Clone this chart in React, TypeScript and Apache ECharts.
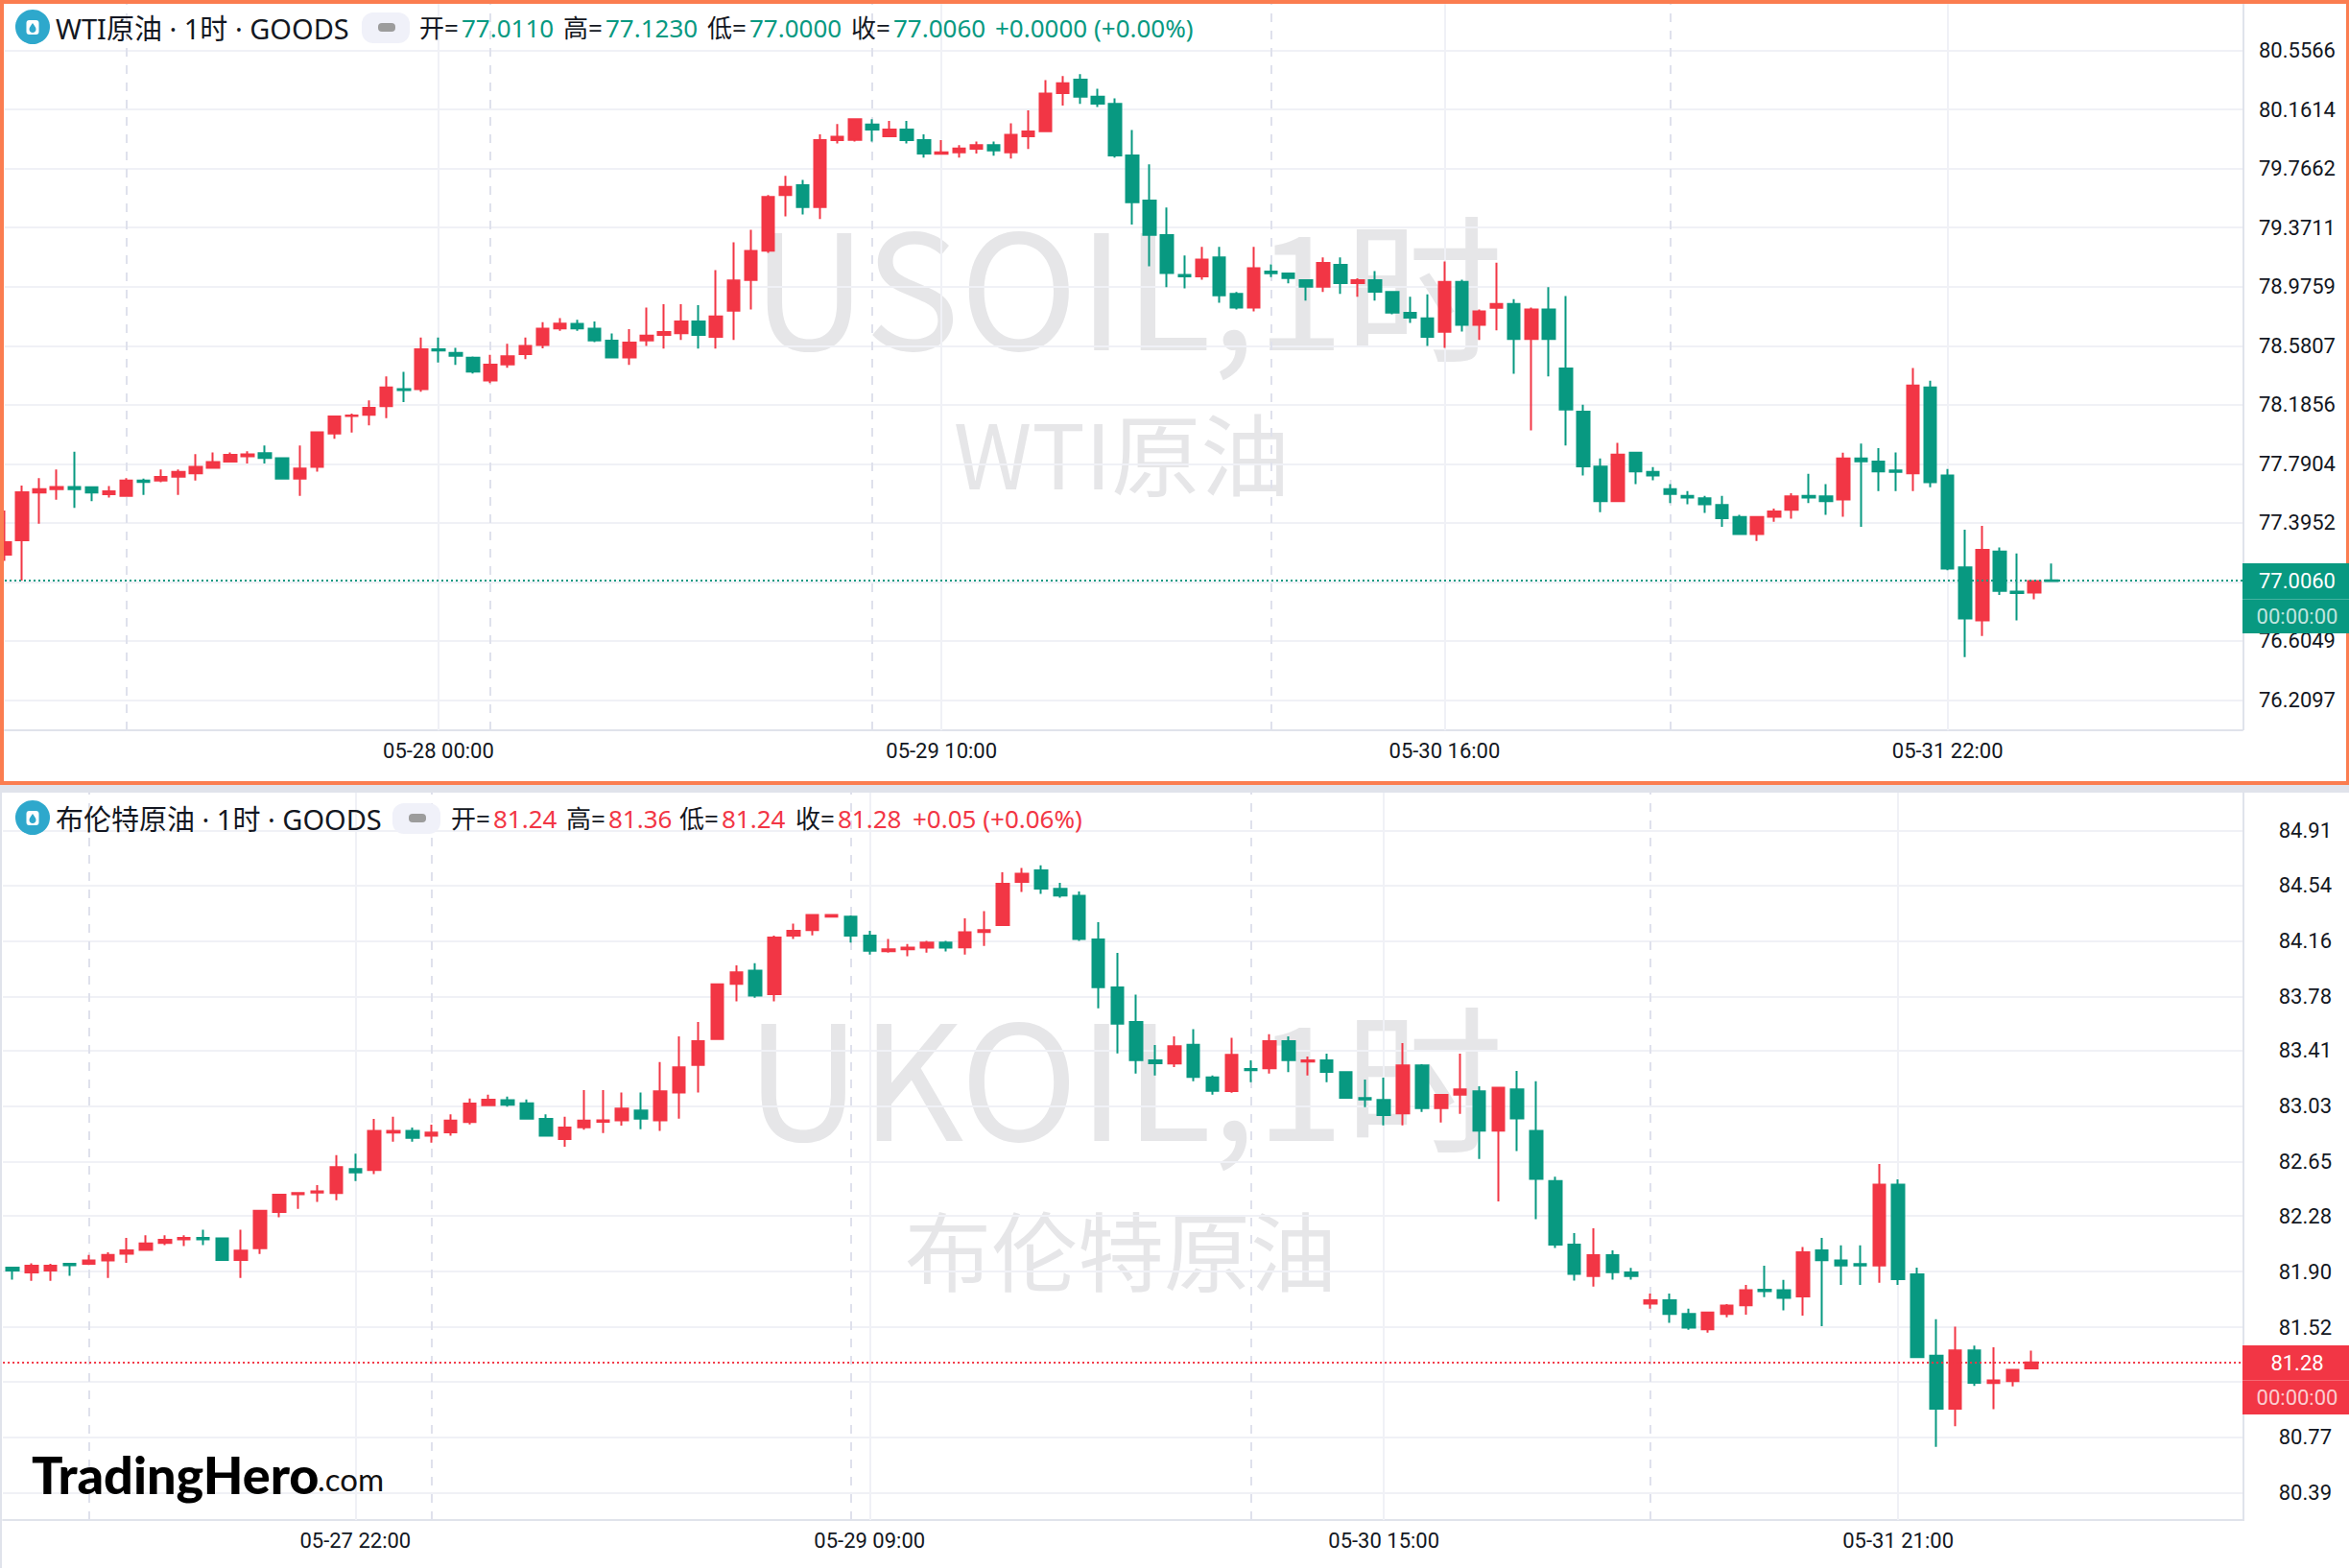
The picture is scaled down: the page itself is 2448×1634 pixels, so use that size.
import React, { useEffect, useRef } from "react";
import * as echarts from "echarts";

const UP = "#f23645";
const DOWN = "#089981";

const wtiOpen = [
  77.182,77.278,77.598,77.621,77.635,77.633,77.587,77.575,77.679,77.679,
  77.704,77.727,77.763,77.805,77.841,77.862,77.828,77.692,77.770,77.993,
  78.110,78.119,78.176,78.291,78.291,78.557,78.532,78.500,78.348,78.456,
  78.525,78.585,78.697,78.727,78.695,78.614,78.502,78.617,78.653,78.665,
  78.743,78.640,78.816,79.021,79.216,79.589,79.655,79.509,79.957,79.959,
  80.062,79.982,80.027,79.957,79.865,79.875,79.899,79.923,79.875,79.982,
  80.017,80.271,80.361,80.248,80.199,79.854,79.552,79.321,79.055,79.045,
  79.171,78.927,78.837,79.077,79.064,79.019,78.976,79.122,79.000,79.019,
  78.940,78.801,78.764,78.674,79.008,78.721,78.835,78.860,78.626,78.823,
  78.429,78.139,77.771,77.540,77.864,77.736,77.621,77.576,77.559,77.515,
  77.434,77.321,77.436,77.483,77.576,77.572,77.552,77.827,77.805,77.746,
  77.727,78.302,77.712,77.097,76.743,77.203,76.935,76.928,77.011,
];
const wtiClose = [
  77.266,77.600,77.621,77.635,77.621,77.598,77.607,77.679,77.669,77.702,
  77.736,77.770,77.802,77.851,77.853,77.830,77.692,77.759,78.002,78.108,
  78.114,78.165,78.302,78.284,78.557,78.548,78.514,78.408,78.454,78.511,
  78.580,78.695,78.729,78.697,78.617,78.502,78.601,78.649,78.672,78.743,
  78.653,78.777,79.018,79.215,79.576,79.644,79.509,79.957,79.980,80.096,
  80.027,80.027,79.957,79.867,79.875,79.901,79.923,79.888,79.993,80.015,
  80.269,80.338,80.248,80.201,79.854,79.541,79.323,79.068,79.045,79.158,
  78.918,78.837,79.100,79.066,79.034,78.976,79.135,79.000,79.019,78.942,
  78.803,78.768,78.640,79.008,78.721,78.811,78.860,78.626,78.823,78.626,
  78.154,77.773,77.540,77.852,77.739,77.712,77.589,77.564,77.520,77.427,
  77.321,77.434,77.471,77.572,77.564,77.540,77.827,77.807,77.739,77.736,
  78.314,77.667,77.090,76.756,77.215,76.940,76.925,77.006,77.006,
];
const wtiHigh = [
  77.478,77.645,77.695,77.752,77.871,77.635,77.642,77.695,77.692,77.752,
  77.752,77.855,77.867,77.867,77.874,77.913,77.828,77.913,78.002,78.108,
  78.126,78.215,78.376,78.406,78.635,78.635,78.566,78.509,78.520,78.594,
  78.635,78.738,78.766,78.754,78.743,78.663,78.692,78.837,78.858,78.858,
  78.853,79.087,79.273,79.357,79.589,79.717,79.691,79.995,80.064,80.096,
  80.096,80.085,80.085,79.995,79.957,79.923,79.948,79.948,80.070,80.156,
  80.359,80.385,80.398,80.301,80.237,80.025,79.794,79.505,79.184,79.242,
  79.242,78.940,79.242,79.126,79.066,79.021,79.171,79.171,79.032,79.081,
  78.940,78.908,78.925,79.145,79.023,78.824,79.137,78.892,78.837,78.973,
  78.914,78.186,77.827,77.930,77.864,77.768,77.655,77.608,77.576,77.576,
  77.449,77.436,77.491,77.594,77.724,77.655,77.864,77.925,77.896,77.866,
  78.432,78.346,77.756,77.350,77.375,77.230,77.191,77.006,77.123,
];
const wtiLow = [
  77.140,77.009,77.390,77.550,77.495,77.541,77.564,77.575,77.582,77.667,
  77.582,77.679,77.763,77.805,77.793,77.793,77.692,77.575,77.738,77.958,
  77.999,78.048,78.096,78.204,78.273,78.468,78.452,78.394,78.330,78.433,
  78.491,78.564,78.681,78.681,78.605,78.502,78.452,78.580,78.562,78.619,
  78.562,78.562,78.619,78.824,79.203,79.447,79.460,79.428,79.935,79.948,
  79.948,79.978,79.935,79.839,79.865,79.839,79.867,79.852,79.833,79.897,
  80.017,80.188,80.199,80.179,79.839,79.391,79.113,78.972,78.965,79.023,
  78.869,78.824,78.811,79.040,78.998,78.882,78.940,78.927,78.908,78.882,
  78.792,78.734,78.580,78.567,78.676,78.619,78.683,78.393,78.014,78.375,
  77.913,77.712,77.466,77.540,77.655,77.680,77.527,77.520,77.461,77.368,
  77.321,77.274,77.402,77.424,77.527,77.449,77.436,77.368,77.608,77.608,
  77.608,77.633,77.078,76.497,76.638,76.913,76.743,76.883,77.000,
];

const brentOpen = [
  81.927,81.894,81.908,81.953,81.953,81.976,82.023,82.049,82.096,82.121,
  82.131,82.128,81.979,82.060,82.308,82.428,82.440,82.437,82.601,82.594,
  82.849,82.861,82.828,82.851,82.922,83.036,83.071,83.050,82.943,82.805,
  82.886,82.924,82.933,83.001,82.933,83.123,83.312,83.488,83.865,83.956,
  83.795,84.195,84.232,84.324,84.324,84.195,84.088,84.101,84.112,84.147,
  84.114,84.219,84.267,84.562,84.640,84.514,84.466,84.169,83.841,83.605,
  83.343,83.321,83.450,83.227,83.133,83.284,83.288,83.474,83.334,83.343,
  83.262,83.085,83.072,82.980,83.308,83.017,83.109,83.131,82.863,83.144,
  82.861,82.518,82.084,81.870,82.012,81.894,81.681,81.705,81.611,81.506,
  81.611,81.671,81.776,81.774,81.731,82.045,81.976,81.952,81.942,82.494,
  81.882,81.326,80.964,81.362,81.139,81.153,81.240,
];
const brentClose = [
  81.908,81.941,81.941,81.943,81.976,82.014,82.046,82.093,82.117,82.131,
  82.121,81.979,82.044,82.315,82.425,82.437,82.449,82.613,82.577,82.861,
  82.861,82.814,82.849,82.931,83.048,83.074,83.039,82.945,82.828,82.884,
  82.931,82.933,83.013,82.945,83.132,83.296,83.474,83.862,83.944,83.785,
  84.182,84.228,84.335,84.335,84.195,84.092,84.101,84.112,84.147,84.112,
  84.217,84.232,84.549,84.618,84.516,84.468,84.171,83.843,83.594,83.345,
  83.323,83.439,83.229,83.135,83.380,83.275,83.474,83.345,83.343,83.264,
  83.087,83.076,82.969,83.308,83.017,83.107,83.144,82.862,83.156,82.947,
  82.534,82.084,81.885,82.012,81.896,81.870,81.705,81.611,81.518,81.621,
  81.669,81.774,81.767,81.721,82.033,81.978,81.942,81.942,82.494,81.848,
  81.316,80.964,81.362,81.141,81.158,81.230,81.280,
];
const brentHigh = [
  81.927,81.957,81.953,81.953,82.014,82.032,82.131,82.149,82.149,82.149,
  82.187,82.131,82.187,82.315,82.425,82.442,82.491,82.695,82.706,82.943,
  82.957,82.884,82.903,82.975,83.083,83.109,83.095,83.076,82.975,82.957,
  83.139,83.139,83.123,83.123,83.331,83.507,83.605,83.865,83.991,84.007,
  84.195,84.276,84.337,84.337,84.332,84.228,84.171,84.138,84.158,84.158,
  84.313,84.361,84.627,84.656,84.675,84.555,84.496,84.286,84.077,83.791,
  83.448,83.507,83.555,83.240,83.496,83.343,83.522,83.507,83.369,83.389,
  83.262,83.212,83.225,83.461,83.317,83.107,83.389,83.166,83.158,83.271,
  83.201,82.549,82.163,82.196,82.045,81.925,81.750,81.750,81.647,81.623,
  81.678,81.810,81.940,81.844,82.069,82.131,82.079,82.079,82.635,82.530,
  81.928,81.575,81.525,81.395,81.383,81.232,81.360,
];
const brentLow = [
  81.845,81.838,81.838,81.871,81.946,81.857,81.960,82.049,82.082,82.074,
  82.082,81.979,81.857,82.021,82.271,82.329,82.376,82.388,82.519,82.566,
  82.788,82.788,82.781,82.828,82.905,83.036,83.027,82.945,82.828,82.753,
  82.870,82.847,82.898,82.872,82.861,82.945,83.123,83.488,83.746,83.771,
  83.745,84.171,84.197,84.319,84.147,84.066,84.079,84.053,84.079,84.086,
  84.066,84.125,84.267,84.492,84.479,84.453,84.158,83.699,83.391,83.253,
  83.240,83.297,83.201,83.109,83.122,83.194,83.253,83.262,83.240,83.194,
  83.087,83.024,82.899,82.899,82.991,82.919,82.978,82.670,82.379,82.724,
  82.259,82.062,81.839,81.798,81.846,81.846,81.647,81.551,81.503,81.484,
  81.589,81.606,81.726,81.635,81.599,81.527,81.810,81.810,81.824,81.810,
  81.316,80.704,80.844,81.119,80.961,81.117,81.240,
];

const wtiTicks = [76.2097,76.6049,77.0001,77.3952,77.7904,78.1856,78.5807,78.9759,79.3711,79.7662,80.1614,80.5566];
const wtiTickLabels = ["76.2097","76.6049","77.3952","77.7904","78.1856","78.5807","78.9759","79.3711","79.7662","80.1614","80.5566"];
const brentTicks = [80.39,80.77,81.15,81.52,81.90,82.28,82.65,83.03,83.41,83.78,84.16,84.54,84.91];
const brentTickLabels = ["80.39","80.77","81.52","81.90","82.28","82.65","83.03","83.41","83.78","84.16","84.54","84.91"];

const wtiDates: Record<number, string> = { 25: "05-28 00:00", 54: "05-29 10:00", 83: "05-30 16:00", 112: "05-31 22:00" };
const brentDates: Record<number, string> = { 18: "05-27 22:00", 45: "05-29 09:00", 72: "05-30 15:00", 99: "05-31 21:00" };
const wtiSessions = [7, 28, 50, 73, 96];
const brentSessions = [4, 22, 44, 65, 86];

const wtiSlots = 130;
const brentSlots = 118;
const wtiLast = 77.006;
const brentLast = 81.28;

const FONT = "Roboto, 'Noto Sans CJK SC', sans-serif";
const CJK = "'Noto Sans', 'Noto Sans CJK SC', Roboto, sans-serif";
const INK = "#131722";
const GRID = "#f0f1f6";
const AXIS = "#e0e3eb";
const DASH = "#dfe1ec";
const BORDER = "#fb7d50";
const WM = "#e6e6e8";

echarts.graphic.registerShape(
  "drop",
  echarts.graphic.extendPath("M0 -5C2 -2 3.5 -0.5 3.5 1.5C3.5 3.5 2 5 0 5C-2 5 -3.5 3.5 -3.5 1.5C-3.5 -0.5 -2 -2 0 -5Z", {}) as any
);

function txt(x: number, y: number, text: string, fill: string, fontSize: number, extra: any = {}) {
  return {
    type: "text",
    x,
    y,
    z: extra.z ?? 50,
    silent: true,
    style: {
      text,
      fill,
      fontSize,
      fontFamily: extra.fontFamily ?? CJK,
      fontWeight: extra.fontWeight ?? 400,
      align: extra.align ?? "left",
      verticalAlign: "middle",
    },
  };
}

function rect(x: number, y: number, width: number, height: number, fill: string, z = 50, r = 0) {
  return { type: "rect", z, silent: true, shape: { x, y, width, height, r }, style: { fill } };
}

function header(cy: number, title: string, pillX: number, segs: [number, string, string][]) {
  return [
    { type: "circle", z: 50, silent: true, shape: { cx: 34, cy: cy - 1, r: 18 }, style: { fill: "#2ea8cc" } },
    rect(27.5, cy - 8, 13, 15, "#ffffff", 51, 3),
    { type: "drop", x: 34, y: cy, z: 52, silent: true, style: { fill: "#2ea8cc" } },
    txt(58, cy, title, INK, 29),
    rect(pillX, cy - 16, 50, 32, "#f0f1f9", 50, 12),
    rect(pillX + 17, cy - 5, 18, 9, "#9c9c9c", 51, 4),
    ...segs.map(([x, t, c]) => txt(x, cy, t, c, 26)),
  ];
}

function priceBox(top: number, mid: number, bottom: number, color: string, last: string) {
  return [
    rect(2337, top, 111, bottom - top, color, 60),
    rect(2337, mid, 111, 1, "rgba(255,255,255,0.25)", 61),
    txt(2394, (top + mid) / 2, last, "#ffffff", 22, { align: "center", fontFamily: FONT, z: 62 }),
    txt(2394, (mid + bottom) / 2, "00:00:00", "rgba(255,255,255,0.75)", 22, { align: "center", fontFamily: FONT, z: 62 }),
  ];
}

function xAxisOf(gridIndex: number, slots: number, dates: Record<number, string>, onBand: boolean) {
  return {
    type: "category",
    gridIndex,
    boundaryGap: onBand,
    data: Array.from({ length: slots }, (_, i) => String(i)),
    axisLine: { show: true, lineStyle: { color: AXIS, width: 2 } },
    axisTick: { show: false },
    axisLabel: {
      interval: (i: number) => dates[i] !== undefined,
      formatter: (_: string, i: number) => dates[i] ?? "",
      color: INK,
      fontSize: 22,
      fontFamily: FONT,
      margin: 10,
    },
    splitLine: { show: false },
  };
}

function yAxisOf(gridIndex: number, min: number, max: number, ticks: number[], labels: string[]) {
  return {
    type: "value",
    gridIndex,
    position: "right",
    min,
    max,
    axisLine: { show: false },
    axisTick: { show: false, customValues: ticks },
    axisLabel: {
      customValues: labels.map(Number),
      formatter: (v: number) => labels.find((l) => Math.abs(Number(l) - v) < 1e-6) ?? "",
      color: INK,
      fontSize: 22,
      fontFamily: FONT,
      align: "center",
      margin: 57,
      padding: [2, 0, 0, 0],
      showMinLabel: true,
      showMaxLabel: true,
    },
    splitLine: { show: true, lineStyle: { color: GRID, width: 2 } },
  };
}

function candleSeries(axis: number, rows: any[], last: number, color: string) {
  return {
    type: "candlestick",
    xAxisIndex: axis,
    yAxisIndex: axis,
    barWidth: 13,
    z: 3,
    data: rows,
    itemStyle: { color: UP, color0: DOWN, borderColor: UP, borderColor0: DOWN, borderWidth: 2 },
    markLine: {
      silent: true,
      symbol: "none",
      z: 5,
      label: { show: false },
      lineStyle: { color, type: [2, 3], width: 2 },
      data: [{ yAxis: last }],
    },
  };
}

function sessionSeries(axis: number, slots: number[], dates: Record<number, string>) {
  return {
    type: "line",
    xAxisIndex: axis,
    yAxisIndex: axis,
    data: [],
    z: 1,
    silent: true,
    markLine: {
      silent: true,
      symbol: "none",
      z: 1,
      label: { show: false },
      lineStyle: { color: DASH, type: [9, 9], width: 2 },
      data: [
        ...slots.map((s) => ({ xAxis: s })),
        ...Object.keys(dates).map((s) => ({ xAxis: Number(s), lineStyle: { color: GRID, type: "solid", width: 2 } })),
      ],
    },
  };
}

export default function App() {
  const ref = useRef<HTMLDivElement>(null);
  useEffect(() => {
    document.body.style.margin = "0";
    const chart = echarts.init(ref.current!, undefined, { renderer: "svg" });
    const wtiRows = wtiOpen.map((o, i) => [o, wtiClose[i], wtiLow[i], wtiHigh[i]]);
    const brentRows = brentOpen.map((o, i) => [o, brentClose[i], brentLow[i], brentHigh[i]]);
    chart.setOption({
      animation: false,
      backgroundColor: "#ffffff",
      grid: [
        { left: 5, top: 4, width: 2332, height: 757 },
        { left: 3.075, top: 826, width: 2342.3, height: 758 },
      ],
      xAxis: [xAxisOf(0, wtiSlots, wtiDates, false), xAxisOf(1, brentSlots, brentDates, true)],
      yAxis: [
        yAxisOf(0, 76.007, 80.869, wtiTicks, wtiTickLabels),
        yAxisOf(1, 80.204, 85.171, brentTicks, brentTickLabels),
      ],
      series: [
        sessionSeries(0, wtiSessions, wtiDates),
        sessionSeries(1, brentSessions, brentDates),
        candleSeries(0, wtiRows, wtiLast, DOWN),
        candleSeries(1, brentRows, brentLast, UP),
      ],
      graphic: {
        elements: [
          txt(1175, 292, "USOIL,1时", WM, 166, { align: "center", z: -1, fontFamily: "'Noto Sans CJK SC'" }),
          txt(1169, 469, "WTI原油", WM, 93, { align: "center", z: -1, fontFamily: "'Noto Sans CJK SC'" }),
          txt(1172, 1116, "UKOIL,1时", WM, 166, { align: "center", z: -1, fontFamily: "'Noto Sans CJK SC'" }),
          txt(1168, 1300, "布伦特原油", WM, 90, { align: "center", z: -1, fontFamily: "'Noto Sans CJK SC'" }),

          rect(2339, 826, 9, 760, "#ffffff", 6),
          rect(2337, 0, 2, 761, AXIS, 7),
          rect(2337, 826, 2, 758, AXIS, 7),
          rect(0, 818, 2448, 8, AXIS, 40),
          rect(0, 826, 2, 808, AXIS, 40),

          rect(0, 0, 2448, 4, BORDER, 45),
          rect(0, 0, 4, 818, BORDER, 45),
          rect(0, 814, 2448, 4, BORDER, 45),
          rect(2445, 0, 3, 818, BORDER, 45),

          ...header(29, "WTI原油 · 1时 · GOODS", 377, [
            [437, "开=", INK],
            [481, "77.0110", DOWN],
            [587, "高=", INK],
            [631, "77.1230", DOWN],
            [737, "低=", INK],
            [781, "77.0000", DOWN],
            [887, "收=", INK],
            [931, "77.0060", DOWN],
            [1037, "+0.0000 (+0.00%)", DOWN],
          ]),
          ...header(853, "布伦特原油 · 1时 · GOODS", 409, [
            [470, "开=", INK],
            [514, "81.24", UP],
            [590, "高=", INK],
            [634, "81.36", UP],
            [708, "低=", INK],
            [752, "81.24", UP],
            [829, "收=", INK],
            [873, "81.28", UP],
            [951, "+0.05 (+0.06%)", UP],
          ]),

          ...priceBox(587, 624, 660, DOWN, "77.0060"),
          ...priceBox(1402, 1438, 1474, UP, "81.28"),

          txt(33, 1536, "TradingHero", "#000000", 54, { fontFamily: "Lato, sans-serif", fontWeight: 900 }),
          txt(331, 1541, ".com", "#111111", 33, { fontFamily: "Lato, sans-serif", fontWeight: 400 }),
        ],
      },
    });
    return () => chart.dispose();
  }, []);
  return <div ref={ref} style={{ position: "absolute", left: 0, top: 0, width: 2448, height: 1634 }} />;
}
